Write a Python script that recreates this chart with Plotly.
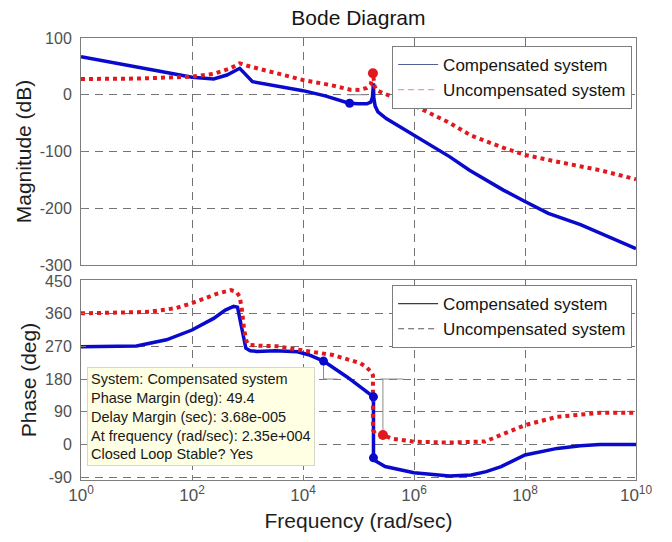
import plotly.graph_objects as go

# ---- Magnitude data (log10 of frequency in rad/sec, magnitude in dB) ----
comp_mag_logw = [0, 0.85, 1.47, 2.0, 2.39, 2.63, 2.86, 3.09, 3.55, 4.0, 4.4, 4.83,
                 5.0, 5.15, 5.22, 5.25, 5.27, 5.275, 5.3, 5.35, 5.5, 5.75, 6.0, 6.3,
                 6.64, 7.0, 7.61, 8.0, 8.42, 9.0, 9.5, 10]
comp_mag_db = [67, 52.4, 40.6, 30.7, 27.7, 34.8, 46.6, 23, 15.4, 7.2, -2, -15,
               -16, -16, -13, -5, 20, -5, -20, -30, -42, -57, -72, -90,
               -109, -133, -168, -188, -209, -229, -250, -271]

unc_mag_logw = [0, 1.0, 2.0, 2.4, 2.7, 2.86, 3.0, 3.17, 4.0, 4.5, 4.85, 5.02, 5.15,
                5.22, 5.26, 5.29, 5.33, 5.44, 5.7, 6.05, 6.65, 7.03, 7.57, 8.0,
                8.58, 9.35, 10]
unc_mag_db = [27.7, 28.5, 31.8, 37, 47, 55.4, 51, 46.6, 26, 17, 9, 8.4, 12,
              18, 38, 15, 8, 3, -8, -21, -50, -72, -92, -106,
              -118, -133, -149]

# ---- Phase data (log10 of frequency in rad/sec, phase in deg) ----
comp_ph_logw = [0, 1.0, 1.54, 2.0, 2.39, 2.6, 2.75, 2.82, 2.87, 2.92, 2.97, 3.05,
                3.17, 3.5, 3.9, 4.1, 4.37, 4.8, 5.27, 5.27, 5.3, 5.48, 6.0, 6.64,
                7.03, 7.3, 7.57, 8.0, 8.58, 9.0, 9.35, 10]
comp_ph_deg = [269, 271, 288, 315, 347, 370, 380, 378, 340, 300, 265, 258,
               256, 258, 255, 247, 229.4, 185, 131, -37, -45, -61, -78, -87,
               -84, -75, -61, -29, -11, -4, 0, 0]

unc_ph_logw = [0, 1.23, 1.7, 2.0, 2.47, 2.7, 2.8, 2.86, 2.9, 2.94, 2.98, 3.02,
               3.2, 3.54, 3.95, 4.54, 5.03, 5.15, 5.24, 5.26, 5.26, 5.3, 5.44,
               5.6, 6.0, 6.64, 7.28, 7.6, 8.0, 8.58, 9.0, 9.35, 10]
unc_ph_deg = [361, 365, 375, 389, 416, 425, 420, 407, 370, 315, 285, 274,
              272, 270, 260, 246, 224, 212, 197, 190, 40, 30, 26,
              16, 7.5, 5, 8, 28, 53, 76, 83, 87, 87]

# ---- Margin markers ----
comp_mag_mark = (4.84, -15)
unc_mag_mark = (5.26, 38)
comp_pm_mark = (4.37, 229.4)        # phase margin point, 2.35e+004 rad/sec
comp_ph_marks_logw = [5.27, 5.27]
comp_ph_marks_deg = [131, -37]
unc_pm_mark = (5.44, 26)

mag_ticks = [-300, -200, -100, 0, 100]
ph_ticks = [-90, 0, 90, 180, 270, 360, 450]
decades = [0, 2, 4, 6, 8, 10]

datatip_lines = [
    "System: Compensated system",
    "Phase Margin (deg): 49.4",
    "Delay Margin (sec): 3.68e-005",
    "At frequency (rad/sec): 2.35e+004",
    "Closed Loop Stable? Yes",
]

BLUE = "rgb(10,10,205)"
RED = "rgb(225,25,30)"
GRID = "rgb(115,115,115)"
AXIS = "rgb(125,125,125)"
FONT = "Liberation Sans, Arial, Helvetica, sans-serif"


def hz(logs):
    return [10 ** v for v in logs]


fig = go.Figure()

# thin reference lines of the margin read-outs
ref = dict(color="rgb(140,140,140)", width=1)
fig.add_trace(go.Scatter(x=hz([4.8, 5.15]), y=[0, 0], mode="lines", line=ref,
                         showlegend=False, hoverinfo="skip", xaxis="x", yaxis="y"))
fig.add_trace(go.Scatter(x=hz([comp_pm_mark[0], comp_pm_mark[0], comp_pm_mark[0] + 0.25]),
                         y=[comp_pm_mark[1], 180, 180], mode="lines", line=ref,
                         showlegend=False, hoverinfo="skip", xaxis="x2", yaxis="y2"))
fig.add_trace(go.Scatter(x=hz([unc_pm_mark[0], unc_pm_mark[0]]), y=[180, unc_pm_mark[1]],
                         mode="lines", line=ref,
                         showlegend=False, hoverinfo="skip", xaxis="x2", yaxis="y2"))
fig.add_trace(go.Scatter(x=hz([unc_pm_mark[0] - 0.05, unc_pm_mark[0] + 0.37]), y=[180, 180],
                         mode="lines", line=ref,
                         showlegend=False, hoverinfo="skip", xaxis="x2", yaxis="y2"))

# magnitude curves
fig.add_trace(go.Scatter(x=hz(comp_mag_logw), y=comp_mag_db, mode="lines",
                         line=dict(color=BLUE, width=3.5), showlegend=False,
                         xaxis="x", yaxis="y"))
fig.add_trace(go.Scatter(x=hz(unc_mag_logw), y=unc_mag_db, mode="lines",
                         line=dict(color=RED, width=4, dash="dot"), showlegend=False,
                         xaxis="x", yaxis="y"))

# phase curves
fig.add_trace(go.Scatter(x=hz(comp_ph_logw), y=comp_ph_deg, mode="lines",
                         line=dict(color=BLUE, width=3.5), showlegend=False,
                         xaxis="x2", yaxis="y2"))
fig.add_trace(go.Scatter(x=hz(unc_ph_logw), y=unc_ph_deg, mode="lines",
                         line=dict(color=RED, width=4, dash="dot"), showlegend=False,
                         xaxis="x2", yaxis="y2"))

# markers
fig.add_trace(go.Scatter(x=hz([comp_mag_mark[0]]), y=[comp_mag_mark[1]], mode="markers",
                         marker=dict(color=BLUE, size=9), showlegend=False,
                         xaxis="x", yaxis="y"))
fig.add_trace(go.Scatter(x=hz([unc_mag_mark[0]]), y=[unc_mag_mark[1]], mode="markers",
                         marker=dict(color=RED, size=10), showlegend=False,
                         xaxis="x", yaxis="y"))
fig.add_trace(go.Scatter(x=hz([comp_pm_mark[0]] + comp_ph_marks_logw),
                         y=[comp_pm_mark[1]] + comp_ph_marks_deg, mode="markers",
                         marker=dict(color=BLUE, size=9), showlegend=False,
                         xaxis="x2", yaxis="y2"))
fig.add_trace(go.Scatter(x=hz([unc_pm_mark[0]]), y=[unc_pm_mark[1]], mode="markers",
                         marker=dict(color=RED, size=10), showlegend=False,
                         xaxis="x2", yaxis="y2"))

# legend entries (thin keys as in the figure legends)
fig.add_trace(go.Scatter(x=[None], y=[None], mode="lines", name="Compensated system",
                         line=dict(color="rgb(85,95,150)", width=1.2),
                         legend="legend", xaxis="x", yaxis="y"))
fig.add_trace(go.Scatter(x=[None], y=[None], mode="lines", name="Uncompensated system",
                         line=dict(color="rgb(230,160,160)", width=1.2, dash="6px,4px"),
                         legend="legend", xaxis="x", yaxis="y"))
fig.add_trace(go.Scatter(x=[None], y=[None], mode="lines", name="Compensated system",
                         line=dict(color="rgb(60,60,60)", width=1.2),
                         legend="legend2", xaxis="x2", yaxis="y2"))
fig.add_trace(go.Scatter(x=[None], y=[None], mode="lines", name="Uncompensated system",
                         line=dict(color="rgb(90,90,90)", width=1.2, dash="6px,4px"),
                         legend="legend2", xaxis="x2", yaxis="y2"))

common_x = dict(type="log", range=[0, 10], showline=True, mirror=True,
                linecolor=AXIS, linewidth=1, showgrid=True, gridcolor=GRID,
                griddash="8px,6px", gridwidth=1, zeroline=False,
                tickvals=[10 ** d for d in decades], ticks="inside", ticklen=5,
                tickcolor=AXIS)
common_y = dict(showline=True, mirror=True, linecolor=AXIS, linewidth=1,
                showgrid=True, gridcolor=GRID, griddash="8px,6px", gridwidth=1,
                zeroline=False, ticks="inside", ticklen=5, tickcolor=AXIS,
                tickfont=dict(size=16, color="rgb(80,80,80)"), ticklabelstandoff=5)

legend_style = dict(x=0.993, xanchor="right", yanchor="top", bgcolor="white",
                    bordercolor=AXIS, borderwidth=1, itemwidth=40,
                    font=dict(size=17, color="rgb(20,20,20)"), tracegroupgap=0)

fig.update_layout(
    width=672, height=542,
    margin=dict(l=81, r=36, t=38, b=62),
    paper_bgcolor="white", plot_bgcolor="white",
    font=dict(family=FONT, color="rgb(30,30,30)"),
    title=dict(text="Bode Diagram", x=0.5334, xanchor="center", y=1 - 18 / 542,
               yanchor="middle", font=dict(size=21, color="rgb(20,20,20)")),
    xaxis=dict(common_x, anchor="y", showticklabels=False, matches="x2"),
    xaxis2=dict(common_x, anchor="y2",
                ticktext=["10<sup>%d</sup>" % d for d in decades],
                tickfont=dict(size=17, color="rgb(80,80,80)"),
                title=dict(text="Frequency (rad/sec)", font=dict(size=21), standoff=8)),
    yaxis=dict(common_y, domain=[0.4864, 1.0], range=[-300, 100],
               tickvals=mag_ticks, ticktext=[str(v) for v in mag_ticks],
               title=dict(text="Magnitude (dB)", font=dict(size=21), standoff=2)),
    yaxis2=dict(common_y, domain=[0.0, 0.4525], range=[-98, 452.75],
                tickvals=ph_ticks, ticktext=[str(v) for v in ph_ticks],
                title=dict(text="Phase (deg)", font=dict(size=21), standoff=2)),
    legend=dict(legend_style, y=0.982),
    legend2=dict(legend_style, y=0.441),
    showlegend=True,
)

# data tip read-out of the compensated system's margins
fig.add_annotation(
    xref="paper", yref="paper", x=0.0108, y=0.2557, xanchor="left", yanchor="top",
    text="<br>".join(datatip_lines), showarrow=False, align="left",
    font=dict(size=14.5, color="rgb(25,25,25)"),
    bgcolor="rgb(255,255,228)", bordercolor="rgb(215,215,195)", borderwidth=1,
    borderpad=3,
)

fig.write_html("out.html")
